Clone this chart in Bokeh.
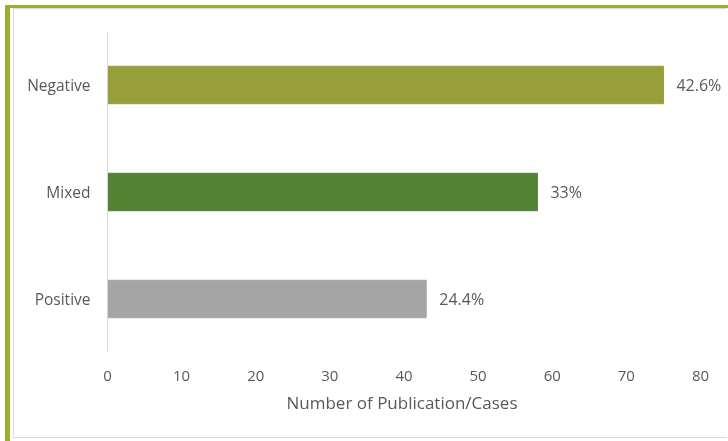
from bokeh.plotting import figure
from bokeh.models import ColumnDataSource, FactorRange, Range1d, Div, FixedTicker, Title
from bokeh.layouts import column
from bokeh.embed import file_html
from bokeh.resources import INLINE
from bokeh.core.properties import value

categories = ["Positive", "Mixed", "Negative"]
counts = [43, 58, 75]
pct_labels = ["24.4%", "33%", "42.6%"]
bar_colors = ["#a5a5a5", "#548235", "#989e3a"]
x_ticks = [0, 10, 20, 30, 40, 50, 60, 70, 80]
x_title = "Number of Publication/Cases"

FONT = "Open Sans"
TXT = "#595959"

src = ColumnDataSource(dict(cat=categories, n=counts, lab=pct_labels, col=bar_colors))

# 80 units span 593px; the frame runs on to the window edge (621px) so value labels fit
p = figure(width=714, height=430, output_backend="svg", toolbar_location=None,
           y_range=FactorRange(*categories, range_padding=0),
           x_range=Range1d(0, 80 * 621 / 593),
           min_border_left=93, min_border_right=0, min_border_top=22, min_border_bottom=87)
p.outline_line_color = None
p.background_fill_color = "white"
p.border_fill_color = "white"
p.xgrid.grid_line_color = None
p.ygrid.grid_line_color = None

p.hbar(y="cat", right="n", left=0, height=0.35, color="col", source=src)
p.text(x="n", y="cat", text="lab", source=src, x_offset=13, text_align="left",
       text_baseline="middle", text_font=value(FONT), text_font_size="16px",
       text_color=TXT)

xa = p.xaxis[0]
xa.ticker = FixedTicker(ticks=x_ticks)
xa.axis_line_color = None
xa.major_tick_line_color = None
xa.minor_tick_line_color = None
xa.major_label_text_font = FONT
xa.major_label_text_font_size = "15px"
xa.major_label_text_color = TXT
xa.major_label_standoff = 12

t = Title(text=x_title, align="left", offset=179, standoff=10,
          text_font=FONT, text_font_size="17px", text_font_style="normal",
          text_color=TXT)
p.add_layout(t, "below")

ya = p.yaxis[0]
ya.axis_line_color = "#d9d9d9"
ya.axis_line_width = 1
ya.major_tick_line_color = None
ya.minor_tick_line_color = None
ya.major_label_text_font = FONT
ya.major_label_text_font_size = "15.5px"
ya.major_label_text_color = TXT
ya.major_label_standoff = 11

p.styles = {"position": "fixed", "left": "13px", "top": "8px",
            "border-left": "1px solid #d9d9d9", "border-top": "1px solid #d9d9d9",
            "border-bottom": "1px solid #d9d9d9"}

olive = "#9cae2c"
left_bar = Div(text="", width=5, height=441,
               styles={"position": "fixed", "left": "0px", "top": "0px",
                       "width": "5px", "height": "441px", "background-color": olive})
top_bar = Div(text="", width=728, height=3,
              styles={"position": "fixed", "left": "0px", "top": "0px",
                      "width": "728px", "height": "3px", "background-color": olive})

root = column(p, left_bar, top_bar)
open("out.html", "w").write(file_html(root, INLINE))
